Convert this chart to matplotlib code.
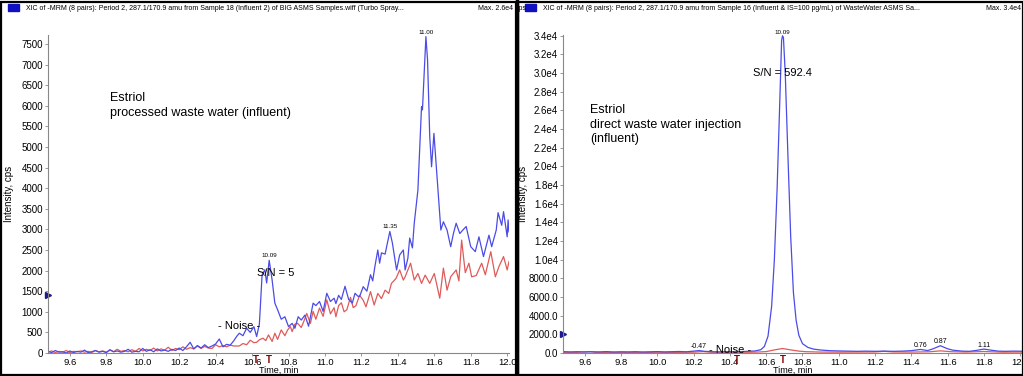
import matplotlib
matplotlib.use("Agg")
import matplotlib.pyplot as plt
from matplotlib.patches import Rectangle
from matplotlib.lines import Line2D
from matplotlib.ticker import FuncFormatter

plt.rcParams['font.family'] = ['Liberation Sans', 'DejaVu Sans']

# ---- left panel: processed waste water ----
left_blue_t = [9.48, 9.50, 9.52, 9.54, 9.56, 9.58, 9.60, 9.62, 9.64, 9.66, 9.68, 9.70, 9.72, 9.74, 9.76,
               9.78, 9.80, 9.82, 9.84, 9.86, 9.88, 9.90, 9.92, 9.94, 9.96, 9.98, 10.00, 10.02, 10.04,
               10.06, 10.08, 10.10, 10.12, 10.14, 10.16, 10.18, 10.20, 10.22, 10.24, 10.26, 10.28,
               10.30, 10.32, 10.34, 10.36, 10.38, 10.40, 10.42, 10.44, 10.46, 10.48, 10.50, 10.515,
               10.53, 10.55, 10.57, 10.59, 10.61, 10.625, 10.64, 10.655, 10.67, 10.68, 10.694, 10.71,
               10.725, 10.74, 10.76, 10.78, 10.80, 10.82, 10.835, 10.853, 10.87, 10.89, 10.91, 10.935,
               10.95, 10.97, 10.99, 11.01, 11.03, 11.05, 11.06, 11.075, 11.09, 11.11, 11.13, 11.15,
               11.165, 11.18, 11.19, 11.21, 11.23, 11.25, 11.262, 11.274, 11.29, 11.30, 11.31, 11.33,
               11.356, 11.37, 11.393, 11.41, 11.43, 11.44, 11.455, 11.465, 11.48, 11.49, 11.51, 11.53,
               11.535, 11.554, 11.563, 11.575, 11.585, 11.598, 11.61, 11.636, 11.65, 11.67, 11.69,
               11.705, 11.72, 11.74, 11.76, 11.775, 11.80, 11.825, 11.845, 11.87, 11.885, 11.90,
               11.915, 11.94, 11.95, 11.97, 11.98, 12.00, 12.005, 12.01]
left_blue_v = [40, 10, 60, 20, 30, 0, 50, 10, 40, 20, 70, 10, 30, 60, 20,
               40, 10, 80, 30, 50, 20, 40, 90, 20, 40, 30, 110, 40, 80,
               30, 100, 50, 70, 40, 90, 60, 120, 60, 150, 260, 100,
               180, 120, 200, 130, 170, 220, 340, 150, 210, 190, 300, 400,
               480, 420, 600, 500, 640, 400, 700, 1900, 2020, 1700, 2250, 1770,
               1210, 1050, 820, 880, 640, 720, 600, 880, 800, 920, 650, 1210,
               1150, 1250, 1010, 1450, 1250, 1330, 1200, 1400, 1300, 1620, 1300, 1210,
               1450, 1380, 1370, 1610, 1500, 1900, 1750, 2100, 2500, 2180, 2430, 2400,
               2950, 2670, 2015, 2380, 2500, 2015, 2300, 2790, 2550, 3150, 3950, 5980,
               5900, 7680, 7110, 5250, 4520, 5330, 4600, 2985, 3185, 2985, 2580,
               2900, 3150, 2900, 3000, 3070, 2580, 2460, 2820, 2340, 2600, 2860,
               2580, 2985, 3405, 3100, 3430, 2820, 3230, 2940]

left_red_t = [9.48, 9.50, 9.52, 9.54, 9.56, 9.58, 9.60, 9.62, 9.64, 9.66, 9.68, 9.70, 9.72, 9.74, 9.76,
              9.78, 9.80, 9.82, 9.84, 9.86, 9.88, 9.90, 9.92, 9.94, 9.96, 9.98, 10.00, 10.02, 10.04,
              10.06, 10.08, 10.10, 10.12, 10.14, 10.16, 10.18, 10.20, 10.22, 10.24, 10.26, 10.28,
              10.30, 10.32, 10.34, 10.36, 10.38, 10.40, 10.42, 10.44, 10.46, 10.48, 10.50, 10.53,
              10.55, 10.57, 10.59, 10.61, 10.625, 10.64, 10.66, 10.675, 10.69, 10.71, 10.725, 10.74,
              10.76, 10.78, 10.795, 10.81, 10.82, 10.835, 10.85, 10.87, 10.885, 10.90, 10.92, 10.935,
              10.95, 10.97, 10.99, 11.01, 11.03, 11.05, 11.06, 11.075, 11.09, 11.105, 11.12, 11.14,
              11.155, 11.17, 11.19, 11.21, 11.225, 11.25, 11.27, 11.29, 11.31, 11.33, 11.35, 11.365,
              11.39, 11.41, 11.43, 11.44, 11.47, 11.49, 11.51, 11.53, 11.55, 11.575, 11.60, 11.63,
              11.65, 11.67, 11.69, 11.72, 11.735, 11.75, 11.77, 11.79, 11.805, 11.83, 11.86, 11.88,
              11.91, 11.935, 11.955, 11.98, 12.00, 12.01]
left_red_v = [20, 50, 10, 40, 20, 60, 10, 40, 30, 50, 20, 40, 10, 60, 30,
              50, 20, 70, 30, 90, 40, 60, 30, 80, 40, 110, 50, 90, 60,
              120, 50, 100, 70, 140, 60, 110, 80, 150, 90, 130, 100,
              170, 110, 160, 120, 110, 200, 150, 180, 150, 190, 170, 170,
              230, 200, 310, 250, 260, 320, 360, 300, 440, 280, 480, 330,
              560, 420, 560, 640, 520, 700, 720, 620, 780, 960, 720, 1010,
              820, 1090, 890, 1290, 950, 1100, 880, 1150, 1220, 1000, 1050, 1350,
              1100, 1150, 1400, 1280, 1120, 1490, 1165, 1445, 1320, 1525, 1445, 1690,
              1810, 2015, 1770, 1850, 2180, 1770, 1930, 1690, 1890, 1690, 1930, 1330,
              2060, 1525, 1850, 2015, 1750, 2740, 1950, 2180, 1850, 1880, 2180, 1900,
              2460, 1850, 2100, 2340, 2015, 2220]

# ---- right panel: direct injection ----
right_blue_t = [9.48, 9.52, 9.56, 9.60, 9.64, 9.68, 9.72, 9.76, 9.80, 9.84, 9.88, 9.92, 9.96, 10.00,
                10.04, 10.08, 10.12, 10.16, 10.20, 10.23, 10.26, 10.30, 10.34, 10.38, 10.42, 10.46,
                10.50, 10.54, 10.57, 10.59, 10.61, 10.63, 10.645, 10.66, 10.675, 10.685, 10.69,
                10.695, 10.705, 10.72, 10.735, 10.75, 10.765, 10.78, 10.80, 10.83, 10.86, 10.90,
                10.95, 11.00, 11.05, 11.10, 11.15, 11.20, 11.25, 11.30, 11.35, 11.40, 11.45, 11.49,
                11.52, 11.56, 11.60, 11.63, 11.68, 11.72, 11.76, 11.80, 11.84, 11.88, 11.92, 11.96, 12.01]
right_blue_v = [150, 120, 140, 110, 130, 120, 150, 110, 130, 120, 140, 110, 130, 150,
                120, 140, 160, 130, 200, 260, 180, 140, 120, 150, 130, 150,
                180, 220, 350, 700, 1800, 5000, 10000, 17500, 27000, 33500, 34000,
                33800, 30000, 21000, 12500, 6500, 3500, 1900, 1000, 600, 420, 320,
                250, 220, 200, 180, 200, 180, 200, 180, 200, 250, 380, 260,
                450, 780, 450, 300, 200, 180, 280, 420, 300, 200, 180, 200, 190]

right_red_t = [9.48, 9.55, 9.63, 9.66, 9.72, 9.80, 9.88, 9.95, 10.00, 10.05, 10.12, 10.20, 10.25,
               10.30, 10.40, 10.45, 10.50, 10.55, 10.60, 10.65, 10.69, 10.73, 10.78, 10.82, 10.90,
               11.00, 11.10, 11.20, 11.25, 11.30, 11.40, 11.50, 11.56, 11.62, 11.70, 11.80, 11.90,
               12.00, 12.01]
right_red_v = [40, 60, 150, 60, 50, 70, 50, 60, 80, 60, 70, 90, 150,
               80, 70, 90, 80, 100, 150, 350, 480, 350, 200, 140, 100,
               90, 100, 110, 180, 110, 100, 130, 230, 140, 100, 160, 90,
               100, 90]

left_ticks = list(range(0, 7501, 500))
right_ticks = [0, 2000, 4000, 6000, 8000, 10000, 12000, 14000, 16000, 18000, 20000,
               22000, 24000, 26000, 28000, 30000, 32000, 34000]
x_ticks = [9.6, 9.8, 10.0, 10.2, 10.4, 10.6, 10.8, 11.0, 11.2, 11.4, 11.6, 11.8, 12.0]

BLUE = '#4b4be8'
RED = '#e05a5a'
DARKRED = '#8b0000'
W, H = 1023, 376

fig = plt.figure(figsize=(W / 100, H / 100), dpi=100)


def px_axes(x0, y0, x1, y1):
    return fig.add_axes([x0 / W, 1 - y1 / H, (x1 - x0) / W, (y1 - y0) / H])


def style(ax, ymax, ticks, fmt, ylab_x):
    ax.set_xlim(9.48, 12.01)
    ax.set_ylim(0, ymax)
    ax.set_xticks(x_ticks)
    ax.set_xticklabels([f"{t:.1f}" for t in x_ticks])
    ax.set_yticks(ticks)
    ax.yaxis.set_major_formatter(FuncFormatter(fmt))
    for s in ('top', 'right'):
        ax.spines[s].set_visible(False)
    for s in ('left', 'bottom'):
        ax.spines[s].set_color('#888888')
        ax.spines[s].set_linewidth(0.8)
    ax.tick_params(labelsize=7, length=2.5, width=0.6, color='#888888', pad=1)
    ax.tick_params(axis='x', labelsize=6.8)
    ax.set_xlabel("Time, min", fontsize=6.5)
    ax.xaxis.set_label_coords(0.5, -0.041)
    ax.set_ylabel("Intensity, cps", fontsize=7)
    ax.yaxis.set_label_coords(ylab_x, 0.5)
    ax.patch.set_alpha(0)


# left chart
ax1 = px_axes(48, 35, 509, 353)
ax1.plot(left_red_t, left_red_v, color=RED, lw=0.9)
ax1.plot(left_blue_t, left_blue_v, color=BLUE, lw=0.9)
style(ax1, 7718, left_ticks, lambda v, p: f"{int(v)}", -0.074)
ax1.text(9.82, 6330, "Estriol\nprocessed waste water (influent)", fontsize=9, va='top',
         linespacing=1.3)
ax1.text(10.694, 2300, "10.09", fontsize=4.5, ha='center', va='bottom')
ax1.text(11.356, 3000, "11.35", fontsize=4.5, ha='center', va='bottom')
ax1.text(11.554, 7730, "11.00", fontsize=4.5, ha='center', va='bottom')
ax1.text(10.73, 1950, "S/N = 5", fontsize=8, ha='center', va='center')
ax1.text(10.53, 650, "- Noise -", fontsize=8, ha='center', va='center')
for t in (10.62, 10.69):
    ax1.text(t, -60, "T", fontsize=7, color=DARKRED, fontweight='bold', ha='center', va='top')
ax1.plot([9.48], [1400], marker='>', color='#1a1a8c', ms=4, clip_on=False)

# right chart
ax2 = px_axes(563, 35, 1022, 353)
ax2.plot(right_red_t, right_red_v, color=RED, lw=0.9)
ax2.plot(right_blue_t, right_blue_v, color=BLUE, lw=0.9)
style(ax2, 34080, right_ticks,
      lambda v, p: f"{v:.1f}" if v < 10000 else f"{v:.1e}".replace("e+0", "e"), -0.076)
ax2.text(9.63, 26700, "Estriol\ndirect waste water injection\n(influent)", fontsize=9,
         va='top', linespacing=1.3)
ax2.text(10.69, 34100, "10.09", fontsize=4.5, ha='center', va='bottom')
ax2.text(10.69, 30000, "S/N = 592.4", fontsize=8, ha='center', va='center')
ax2.text(10.40, 300, "- Noise -", fontsize=8, ha='center', va='center')
for t, v, s in [(10.23, 300, "-0.47"), (11.45, 420, "0.76"), (11.56, 820, "0.87"), (11.80, 460, "1.11")]:
    ax2.text(t, v, s, fontsize=5, ha='center', va='bottom')
for t in (10.44, 10.69):
    ax2.text(t, -230, "T", fontsize=7, color=DARKRED, fontweight='bold', ha='center', va='top')
ax2.plot([9.48], [2000], marker='>', color='#1a1a8c', ms=4, clip_on=False)

# panel frames and headers
for x0, x1 in ((1, 516), (518, 1023)):
    fig.add_artist(Rectangle((x0 / W, 1 / H), (x1 - x0) / W, (H - 3) / H,
                             transform=fig.transFigure, fill=False, ec='black', lw=1.6))
fig.add_artist(Line2D([517 / W, 517 / W], [0, 1], transform=fig.transFigure, color='black', lw=2.5))

headers = [
    (8, "XIC of -MRM (8 pairs): Period 2, 287.1/170.9 amu from Sample 18 (Influent 2) of BIG ASMS Samples.wiff (Turbo Spray...",
     478, "Max. 2.6e4 cps"),
    (525, "XIC of -MRM (8 pairs): Period 2, 287.1/170.9 amu from Sample 16 (Influent & IS=100 pg/mL) of WasteWater ASMS Sa...",
     986, "Max. 3.4e4"),
]
for x0, txt, mx, mtxt in headers:
    fig.add_artist(Rectangle((x0 / W, 1 - 11 / H), 11 / W, 7 / H, transform=fig.transFigure,
                             color='#1010c0'))
    fig.text((x0 + 18) / W, 1 - 9 / H, txt, fontsize=5, va='center')
    fig.text(mx / W, 1 - 9 / H, mtxt, fontsize=5, va='center')

fig.savefig("out.png", dpi=100)
